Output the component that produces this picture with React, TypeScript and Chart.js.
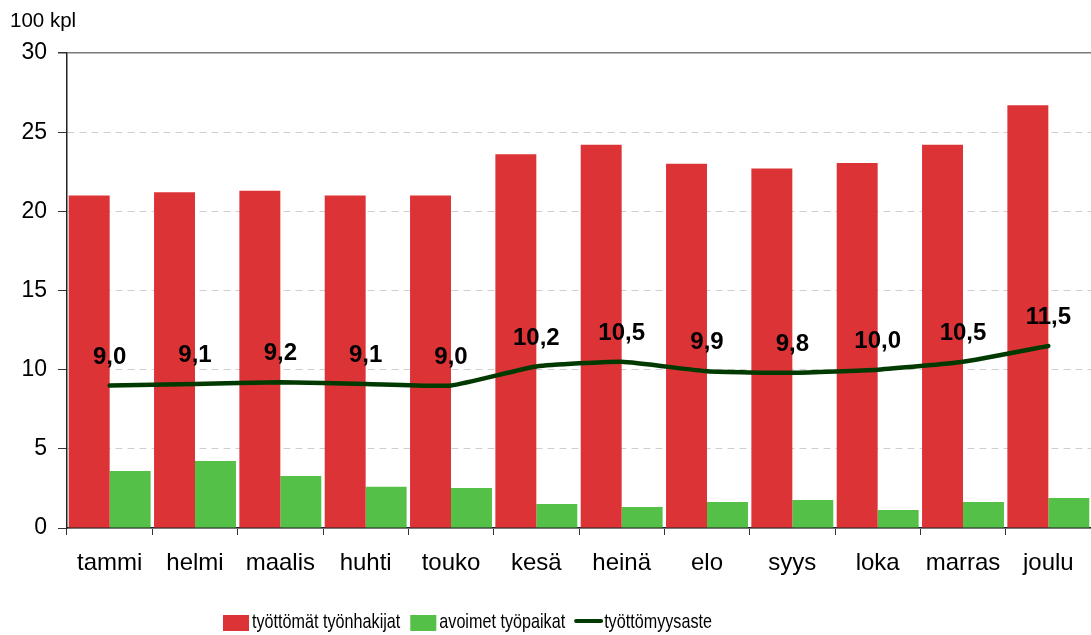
import React, { useEffect, useRef } from "react";
import { Chart, registerables } from "chart.js";

Chart.register(...registerables);

const categories = ["tammi", "helmi", "maalis", "huhti", "touko", "kesä", "heinä", "elo", "syys", "loka", "marras", "joulu"];
const jobSeekers = [21.0, 21.2, 21.3, 21.0, 21.0, 23.6, 24.2, 23.0, 22.7, 23.05, 24.2, 26.7];
const vacancies = [3.6, 4.23, 3.28, 2.6, 2.53, 1.52, 1.33, 1.64, 1.77, 1.14, 1.64, 1.9];
const unemploymentRate = [9.0, 9.1, 9.2, 9.1, 9.0, 10.2, 10.5, 9.9, 9.8, 10.0, 10.5, 11.5];
const seriesNames = ["työttömät työnhakijat", "avoimet työpaikat", "työttömyysaste"];
const unitLabel = "100 kpl";

const RED = "#DC3436";
const GREEN = "#54C047";
const DARK = "#003A00";
const FONT = "'Liberation Sans', Arial, sans-serif";

const extrasPlugin = {
  id: "extras",
  afterDatasetsDraw(chart: any) {
    const ctx = chart.ctx;
    const meta = chart.getDatasetMeta(2);
    ctx.save();
    ctx.fillStyle = "#000";
    ctx.font = `bold 24px ${FONT}`;
    ctx.textAlign = "center";
    ctx.textBaseline = "alphabetic";
    meta.data.forEach((pt: any, i: number) => {
      ctx.fillText(unemploymentRate[i].toFixed(1).replace(".", ","), pt.x, pt.y - 22);
    });
    ctx.restore();
  },
  afterDraw(chart: any) {
    const ctx = chart.ctx;
    ctx.save();
    ctx.fillStyle = "#000";
    ctx.font = `20.5px ${FONT}`;
    ctx.textAlign = "left";
    ctx.textBaseline = "alphabetic";
    ctx.fillText(unitLabel, 10, 27);

    // legend
    const sx = 0.77;
    ctx.font = `21px ${FONT}`;
    let x = 223;
    const cy = 621;
    const colors = [RED, GREEN, DARK];
    seriesNames.forEach((name, i) => {
      if (i < 2) {
        ctx.fillStyle = colors[i];
        ctx.fillRect(x, 615, 26, 16);
      } else {
        ctx.strokeStyle = colors[i];
        ctx.lineWidth = 4;
        ctx.lineCap = "round";
        ctx.beginPath();
        ctx.moveTo(x + 1, cy);
        ctx.lineTo(x + 26, cy);
        ctx.stroke();
      }
      const tx = x + 29;
      ctx.save();
      ctx.translate(tx, 628);
      ctx.scale(sx, 1);
      ctx.fillStyle = "#000";
      ctx.fillText(name, 0, 0);
      ctx.restore();
      x = tx + ctx.measureText(name).width * sx + 10;
    });
    ctx.restore();
  },
};

export default function App() {
  const ref = useRef<HTMLCanvasElement>(null);
  useEffect(() => {
    document.body.style.margin = "0";
    const chart = new Chart(ref.current as HTMLCanvasElement, {
      type: "bar",
      data: {
        labels: categories,
        datasets: [
          {
            label: seriesNames[0],
            data: jobSeekers,
            backgroundColor: RED,
            borderWidth: 0,
            categoryPercentage: 0.96,
            barPercentage: 1.0,
            order: 2,
          } as any,
          {
            label: seriesNames[1],
            data: vacancies,
            backgroundColor: GREEN,
            borderWidth: 0,
            categoryPercentage: 0.96,
            barPercentage: 1.0,
            order: 2,
          },
          {
            type: "line",
            label: seriesNames[2],
            data: unemploymentRate,
            borderColor: DARK,
            backgroundColor: DARK,
            borderWidth: 4.5,
            pointRadius: 0,
            tension: 0.15,
            borderCapStyle: "round",
            order: 0,
          },
        ],
      },
      options: {
        animation: false,
        responsive: false,
        maintainAspectRatio: false,
        layout: { padding: { top: 53, left: 0, right: 0, bottom: 47 } },
        plugins: {
          legend: { display: false },
          tooltip: { enabled: false },
        },
        scales: {
          x: {
            offset: true,
            grid: {
              display: true,
              offset: true,
              drawOnChartArea: false,
              drawTicks: true,
              tickLength: 7,
              tickColor: "#333",
              color: "#333",
            },
            border: { display: true, color: "#222", width: 1.5 },
            ticks: {
              color: "#000",
              font: { family: FONT, size: 24 },
              padding: 14,
              maxRotation: 0,
              autoSkip: false,
            },
            afterFit: (scale: any) => {
              scale.height = 60;
            },
          },
          y: {
            min: 0,
            max: 30,
            ticks: {
              stepSize: 5,
              color: "#000",
              font: { family: FONT, size: 23 },
              padding: 11,
            },
            grid: {
              color: (c: any) => (c.tick && c.tick.value === 30 ? "#7a7a7a" : "#cfcfcf"),
              lineWidth: (c: any) => (c.tick && c.tick.value === 30 ? 1.5 : 1),
              tickLength: 9,
              tickColor: "#333",
              tickBorderDash: [],
            },
            border: {
              display: true,
              color: "#222",
              width: 1.5,
              dash: (c: any) => (c.tick && (c.tick.value === 30 || c.tick.value === 0) ? [] : [7, 5]),
            } as any,
            afterFit: (scale: any) => {
              scale.width = 67;
            },
          },
        },
      },
      plugins: [extrasPlugin],
    });
    return () => chart.destroy();
  }, []);
  return (
    <div style={{ width: 1091, height: 635 }}>
      <canvas ref={ref} width={1091} height={635} style={{ display: "block" }} />
    </div>
  );
}
